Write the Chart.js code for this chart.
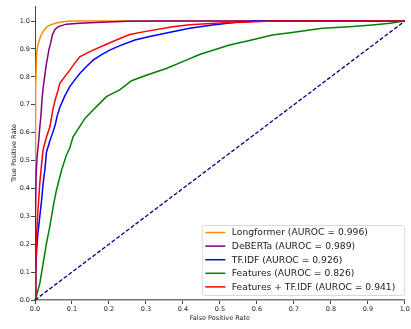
<!DOCTYPE html>
<html>
<head>
<meta charset="utf-8">
<script src="https://cdn.jsdelivr.net/npm/chart.js@4.4.0/dist/chart.umd.min.js"></script>
<style>
  body { margin: 0; background: #fff; }
</style>
</head>
<body>
<canvas id="myChart" width="411" height="329"></canvas>
<script>
// tick labels for both axes
let xTicks = [0, 0.1, 0.2, 0.3, 0.4, 0.5, 0.6, 0.7, 0.8, 0.9, 1.0];
let yTicks = [0, 0.1, 0.2, 0.3, 0.4, 0.5, 0.6, 0.7, 0.8, 0.9, 1.0];

let modelNames = ['Longformer', 'DeBERTa', 'TF.IDF', 'Features', 'Features + TF.IDF'];
let aurocs = [0.996, 0.989, 0.926, 0.826, 0.941];

// ROC points (fpr, tpr)
let longformerFpr = [0, 0.001, 0.002, 0.004, 0.006, 0.01, 0.015, 0.02, 0.026, 0.033, 0.045, 0.06, 0.08, 0.1, 1];
let longformerTpr = [0, 0.6, 0.75, 0.87, 0.9, 0.925, 0.945, 0.958, 0.97, 0.98, 0.988, 0.994, 0.998, 1.0, 1];

let debertaFpr = [0, 0.001, 0.003, 0.006, 0.01, 0.013, 0.016, 0.019, 0.022, 0.026, 0.03, 0.034, 0.038, 0.042, 0.047, 0.054, 0.063, 0.085, 0.12, 0.18, 0.25, 0.32, 1];
let debertaTpr = [0, 0.3, 0.45, 0.52, 0.57, 0.62, 0.66, 0.72, 0.76, 0.8, 0.84, 0.87, 0.9, 0.92, 0.95, 0.97, 0.98, 0.989, 0.992, 0.996, 0.999, 1, 1];

let tfidfFpr = [0, 0.002, 0.0045, 0.008, 0.013, 0.018, 0.022, 0.027, 0.031, 0.04, 0.048, 0.055, 0.06, 0.067, 0.08, 0.094, 0.108, 0.121, 0.14, 0.157, 0.18, 0.202, 0.23, 0.27, 0.31, 0.372, 0.418, 0.48, 0.55, 0.6, 1];
let tfidfTpr = [0, 0.1, 0.18, 0.24, 0.3, 0.36, 0.418, 0.47, 0.53, 0.57, 0.6, 0.63, 0.66, 0.69, 0.73, 0.765, 0.79, 0.812, 0.838, 0.86, 0.88, 0.896, 0.912, 0.932, 0.945, 0.962, 0.974, 0.986, 0.997, 1.0, 1];

let featuresFpr = [0, 0.005, 0.013, 0.022, 0.031, 0.04, 0.049, 0.058, 0.065, 0.072, 0.085, 0.094, 0.103, 0.12, 0.135, 0.157, 0.175, 0.193, 0.229, 0.261, 0.301, 0.355, 0.409, 0.445, 0.526, 0.58, 0.642, 0.7, 0.777, 0.85, 0.912, 0.96, 0.99, 1];
let featuresTpr = [0, 0.02, 0.06, 0.131, 0.203, 0.263, 0.334, 0.394, 0.43, 0.466, 0.52, 0.545, 0.585, 0.62, 0.651, 0.681, 0.705, 0.729, 0.753, 0.786, 0.806, 0.83, 0.86, 0.88, 0.914, 0.93, 0.95, 0.96, 0.974, 0.98, 0.986, 0.992, 0.998, 1];

let comboFpr = [0, 0.002, 0.0045, 0.008, 0.013, 0.018, 0.022, 0.03, 0.04, 0.048, 0.055, 0.062, 0.067, 0.08, 0.094, 0.108, 0.121, 0.14, 0.157, 0.19, 0.22, 0.256, 0.3, 0.372, 0.418, 0.5, 0.58, 0.64, 1];
let comboTpr = [0, 0.1, 0.24, 0.32, 0.42, 0.49, 0.54, 0.58, 0.62, 0.68, 0.72, 0.75, 0.777, 0.8, 0.824, 0.85, 0.872, 0.885, 0.896, 0.915, 0.932, 0.952, 0.963, 0.98, 0.987, 0.993, 0.997, 1.0, 1];

// chance line
let chanceX = [0, 1];
let chanceY = [0, 1];

let colors = ['#ff8c00', '#800080', '#0000ff', '#008000', '#ff0000'];

function toPoints(xs, ys) {
  let pts = [];
  for (let i = 0; i < xs.length; i++) {
    pts.push({ x: xs[i], y: ys[i] });
  }
  return pts;
}

let curves = [
  toPoints(longformerFpr, longformerTpr),
  toPoints(debertaFpr, debertaTpr),
  toPoints(tfidfFpr, tfidfTpr),
  toPoints(featuresFpr, featuresTpr),
  toPoints(comboFpr, comboTpr)
];

let datasets = [];
for (let i = 0; i < curves.length; i++) {
  datasets.push({
    label: `${modelNames[i]} (AUROC = ${aurocs[i].toFixed(3)})`,
    data: curves[i],
    borderColor: colors[i],
    borderWidth: 1.5,
    pointRadius: 0,
    showLine: true,
    tension: 0,
    // later curves go on top, like matplotlib
    order: 10 - i
  });
}
datasets.push({
  label: '',
  data: toPoints(chanceX, chanceY),
  borderColor: '#000080',
  borderWidth: 1.3,
  borderDash: [4, 2],
  pointRadius: 0,
  showLine: true,
  order: 1
});

// legend box in the lower right corner of the plot
const boxLegend = {
  id: 'boxLegend',
  afterDraw(chart) {
    let ctx = chart.ctx;
    let area = chart.chartArea;
    let items = chart.data.datasets.filter(d => d.label);
    let rowH = 13.6;
    let w = 202;
    let h = items.length * rowH + 2;
    let x0 = area.right - w - 1;
    let y0 = area.bottom - h - 5;
    ctx.save();
    ctx.fillStyle = 'rgba(255,255,255,0.8)';
    ctx.strokeStyle = '#d0d0d0';
    ctx.lineWidth = 0.8;
    ctx.beginPath();
    ctx.roundRect(x0 + 0.5, y0 + 0.5, w, h, 2);
    ctx.fill();
    ctx.stroke();
    ctx.font = '9.2px "DejaVu Sans"';
    ctx.textBaseline = 'middle';
    for (let i = 0; i < items.length; i++) {
      let y = y0 + 7.5 + i * rowH;
      ctx.strokeStyle = items[i].borderColor;
      ctx.lineWidth = 1.5;
      ctx.beginPath();
      ctx.moveTo(x0 + 3.5, y);
      ctx.lineTo(x0 + 23.5, y);
      ctx.stroke();
      ctx.fillStyle = '#222';
      ctx.fillText(items[i].label, x0 + 30, y + 0.5);
    }
    ctx.restore();
  }
};

let tickFont = { family: 'DejaVu Sans', size: 6.5 };

let canvasChart = document.getElementById('myChart');
let chart = new Chart(canvasChart, {
  type: 'scatter',
  data: { datasets: datasets },
  options: {
    responsive: false,
    devicePixelRatio: 1,
    animation: false,
    layout: { padding: { left: 0, right: 5, top: 6, bottom: 0 } },
    plugins: {
      legend: { display: false },
      tooltip: { enabled: false }
    },
    scales: {
      x: {
        type: 'linear',
        min: 0,
        max: 1,
        afterBuildTicks: s => { s.ticks = xTicks.map(v => ({ value: v })); },
        afterFit: s => { s.height = 29; },
        ticks: {
          callback: v => v.toFixed(1),
          font: tickFont,
          color: '#222',
          padding: 1,
          maxRotation: 0,
          autoSkip: false
        },
        grid: { drawOnChartArea: false, tickLength: 4, color: '#444' },
        border: { color: '#777', width: 1.5 },
        title: {
          display: true,
          text: 'False Positive Rate',
          font: tickFont,
          color: '#222',
          padding: { top: 0, bottom: 7 }
        }
      },
      y: {
        type: 'linear',
        min: 0,
        max: 1.054,
        afterBuildTicks: s => { s.ticks = yTicks.map(v => ({ value: v })); },
        afterFit: s => { s.width = 35; },
        ticks: {
          callback: v => v.toFixed(1),
          font: tickFont,
          color: '#222',
          padding: 1,
          autoSkip: false
        },
        grid: { drawOnChartArea: false, tickLength: 4, color: '#444' },
        border: { color: '#444', width: 1 },
        title: {
          display: true,
          text: 'True Positive Rate',
          font: tickFont,
          color: '#222',
          padding: { top: 10, bottom: 0 }
        }
      }
    }
  },
  plugins: [boxLegend]
});
</script>
</body>
</html>
